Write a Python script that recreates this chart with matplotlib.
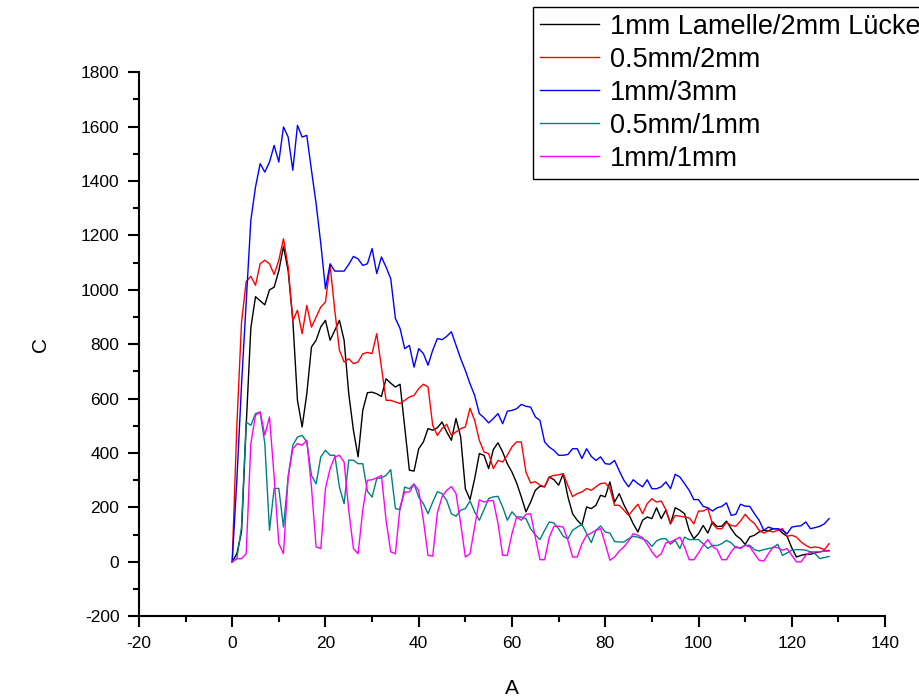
import numpy as np
import matplotlib
matplotlib.use("Agg")
import matplotlib.pyplot as plt
from matplotlib.ticker import MultipleLocator

plt.rcParams["font.family"] = ["Liberation Sans", "DejaVu Sans"]
plt.rcParams["axes.unicode_minus"] = False

# Messpunkte 0..128
a = np.arange(129)

c_1mm_2mm = [
    0, 30, 110, 500, 860, 975, 960, 945, 1000, 1010, 1070, 1160, 1070, 890, 594, 496,
    618, 790, 815, 864, 888, 815, 851, 888, 815, 618, 484, 386, 557, 622, 624, 618,
    608, 673, 657, 643, 653, 496, 337, 334, 416, 441, 490, 484, 493, 514, 478, 447,
    527, 459, 269, 229, 306, 398, 392, 343, 413, 438, 404, 361, 330, 290, 239, 184,
    220, 263, 278, 276, 312, 302, 282, 324, 239, 177, 153, 135, 202, 196, 208, 245,
    239, 294, 220, 251, 210, 177, 140, 110, 153, 165, 159, 199, 159, 190, 140, 199,
    190, 177, 116, 85, 104, 134, 106, 147, 130, 131, 150, 122, 98, 85, 64, 92,
    98, 110, 116, 114, 122, 122, 106, 94, 52, 18, 24, 28, 28, 33, 37, 40, 42,
]

c_05mm_2mm = [
    0, 500, 880, 1030, 1050, 1017, 1096, 1109, 1096, 1057, 1109, 1188, 1084, 887, 925, 839,
    943, 863, 900, 937, 955, 1090, 925, 778, 735, 747, 729, 735, 765, 770, 766, 839,
    716, 594, 594, 588, 582, 594, 606, 612, 637, 653, 643, 502, 465, 490, 506, 465,
    478, 490, 496, 565, 520, 447, 404, 398, 343, 373, 367, 392, 423, 441, 441, 330,
    290, 295, 282, 276, 312, 318, 320, 324, 280, 240, 251, 257, 270, 263, 276, 288,
    290, 270, 208, 208, 190, 171, 192, 212, 177, 214, 232, 220, 224, 192, 140, 171,
    168, 165, 162, 140, 187, 187, 196, 140, 122, 122, 145, 134, 131, 150, 175, 155,
    141, 116, 106, 114, 110, 116, 122, 94, 98, 91, 73, 61, 52, 55, 52, 45, 67,
]

c_1mm_3mm = [
    0, 300, 650, 950, 1256, 1378, 1464, 1433, 1470, 1531, 1470, 1599, 1562, 1440, 1605, 1562,
    1568, 1440, 1317, 1170, 1004, 1096, 1069, 1069, 1069, 1094, 1123, 1114, 1090, 1096, 1152, 1060,
    1121, 1084, 1041, 895, 858, 784, 796, 716, 784, 766, 723, 778, 821, 817, 829, 846,
    796, 747, 704, 655, 612, 545, 530, 511, 527, 545, 508, 554, 557, 563, 579, 572,
    569, 533, 520, 441, 422, 410, 392, 392, 395, 416, 416, 380, 416, 388, 373, 386,
    361, 359, 373, 335, 300, 276, 302, 288, 276, 302, 269, 269, 276, 294, 269, 322,
    312, 288, 263, 229, 229, 204, 199, 187, 199, 204, 217, 171, 175, 212, 205, 204,
    177, 153, 116, 128, 122, 122, 116, 104, 128, 131, 133, 147, 122, 126, 131, 140, 159,
]

c_05mm_1mm = [
    0, 12, 128, 514, 502, 545, 551, 435, 116, 270, 270, 128, 312, 429, 459, 465,
    441, 318, 287, 386, 410, 392, 392, 275, 214, 374, 374, 361, 361, 260, 238, 306,
    309, 318, 339, 196, 192, 275, 269, 287, 238, 214, 177, 220, 258, 251, 226, 177,
    168, 190, 196, 224, 184, 153, 192, 233, 239, 241, 202, 153, 184, 165, 165, 159,
    122, 100, 82, 116, 147, 143, 122, 94, 85, 116, 128, 138, 104, 71, 116, 132,
    110, 106, 75, 73, 73, 85, 94, 91, 85, 77, 57, 77, 85, 85, 65, 79,
    49, 91, 82, 82, 82, 67, 49, 61, 60, 67, 79, 70, 52, 52, 61, 61,
    45, 40, 45, 49, 52, 65, 24, 33, 43, 45, 45, 43, 37, 30, 12, 16, 20,
]

c_1mm_1mm = [
    0, 12, 12, 30, 435, 539, 551, 466, 533, 312, 67, 30, 312, 416, 435, 429,
    447, 275, 55, 49, 270, 343, 386, 392, 367, 190, 49, 30, 190, 300, 302, 309,
    318, 153, 37, 30, 202, 257, 257, 285, 263, 153, 24, 21, 180, 239, 263, 277,
    251, 141, 18, 30, 128, 228, 220, 224, 226, 141, 24, 24, 104, 165, 153, 175,
    177, 91, 8, 8, 91, 131, 131, 128, 79, 18, 18, 67, 98, 106, 116, 122,
    67, 6, 18, 40, 55, 77, 104, 98, 89, 65, 37, 16, 30, 70, 73, 82,
    91, 55, 8, 8, 33, 61, 82, 57, 45, 8, 8, 37, 57, 49, 61, 55,
    30, 6, 3, 30, 55, 52, 43, 49, 24, 0, 0, 24, 37, 37, 37, 40, 40,
]

labels = ["1mm Lamelle/2mm Lücke", "0.5mm/2mm", "1mm/3mm", "0.5mm/1mm", "1mm/1mm"]
colors = ["#000000", "#ff0000", "#0000ff", "#008080", "#ff00ff"]
series = [c_1mm_2mm, c_05mm_2mm, c_1mm_3mm, c_05mm_1mm, c_1mm_1mm]

fig = plt.figure(figsize=(9.2, 6.97), dpi=100)
ax = fig.add_axes([0.151, 0.1158, 0.811, 0.7805])

for y, lab, col in zip(series, labels, colors):
    ax.plot(a, y, color=col, lw=1.0, label=lab)

ax.set_xlim(-20, 140)
ax.set_ylim(-200, 1800)
ax.xaxis.set_major_locator(MultipleLocator(20))
ax.xaxis.set_minor_locator(MultipleLocator(10))
ax.yaxis.set_major_locator(MultipleLocator(200))
ax.yaxis.set_minor_locator(MultipleLocator(100))

for side in ("top", "right"):
    ax.spines[side].set_visible(False)
for side in ("left", "bottom"):
    ax.spines[side].set_linewidth(1.5)

ax.tick_params(which="major", direction="out", length=8, width=1.5, labelsize=12.5, pad=6)
ax.tick_params(which="minor", direction="out", length=4, width=1.5)

ax.set_xlabel("A", fontsize=15, labelpad=20)
ax.set_ylabel("C", fontsize=15, labelpad=22)

# Legende ragt rechts über den Rand hinaus
leg = fig.legend(
    loc="upper left", bbox_to_anchor=(533 / 920, 1 - 7 / 697), fontsize=19.5,
    frameon=True, fancybox=False, edgecolor="black", framealpha=1,
    handlelength=2.2, handletextpad=0.4, labelspacing=0.26, borderpad=0.25,
    borderaxespad=0,
)
leg.get_frame().set_linewidth(1.0)

fig.savefig("out.png", dpi=100)
